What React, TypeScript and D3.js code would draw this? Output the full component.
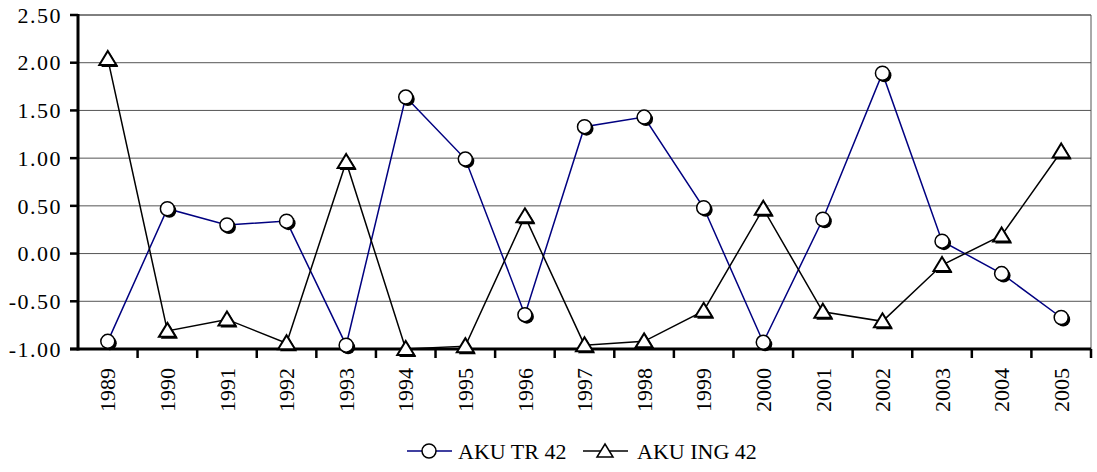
import React from "react";
import * as d3 from "d3";

const years = ["1989","1990","1991","1992","1993","1994","1995","1996","1997","1998","1999","2000","2001","2002","2003","2004","2005"];
const akuTr = [-0.92, 0.47, 0.30, 0.34, -0.96, 1.64, 0.99, -0.64, 1.33, 1.43, 0.48, -0.93, 0.36, 1.89, 0.13, -0.21, -0.67];
const akuIng = [2.04, -0.81, -0.69, -0.94, 0.96, -1.00, -0.97, 0.39, -0.96, -0.92, -0.60, 0.47, -0.61, -0.71, -0.12, 0.19, 1.07];
const yTicks = [-1, -0.5, 0, 0.5, 1, 1.5, 2, 2.5];
const seriesNames = ["AKU TR 42", "AKU ING 42"];

const W = 1097, H = 472;
const L = 78, R = 1091, T = 15, B = 349;
const FONT = '"Liberation Serif", "DejaVu Serif", serif';

function Circle({ cx, cy }: { cx: number; cy: number }) {
  return (
    <g>
      <circle cx={cx + 2} cy={cy + 2} r={7} fill="#000" />
      <circle cx={cx} cy={cy} r={7} fill="#fff" stroke="#000" strokeWidth={1.5} />
    </g>
  );
}
function Tri({ cx, cy }: { cx: number; cy: number }) {
  const p = (dx: number, dy: number) => `M${cx + dx},${cy + dy - 8} L${cx + dx + 8.5},${cy + dy + 6} L${cx + dx - 8.5},${cy + dy + 6} Z`;
  return (
    <g>
      <path d={p(2, 2)} fill="#000" />
      <path d={p(0, 0)} fill="#fff" stroke="#000" strokeWidth={2} strokeLinejoin="miter" />
    </g>
  );
}

export default function App() {
  const x = d3.scaleBand().domain(years).range([L, R]).padding(0);
  const y = d3.scaleLinear().domain([-1, 2.5]).range([B, T]);
  const cx = (d: string) => (x(d) as number) + x.bandwidth() / 2;
  const line = d3.line<number>().x((_, i) => cx(years[i])).y((v) => y(v));
  const ts = { fontFamily: FONT, fontSize: "22px" } as React.CSSProperties;
  const tsY = { fontFamily: FONT, fontSize: "22px", letterSpacing: "1.5px" } as React.CSSProperties;
  const LY = 451;

  return (
    <svg width={W} height={H} style={{ position: "absolute", left: 0, top: 0, background: "#fff" }}>
      {yTicks.map((t) => (
        <g key={t}>
          <line x1={L} x2={R} y1={y(t)} y2={y(t)} stroke={t === 2.5 ? "#000" : "#555"} strokeWidth={1} />
          <line x1={L - 8} x2={L} y1={y(t)} y2={y(t)} stroke="#000" strokeWidth={2.5} />
          <text x={L - 16} y={y(t)} dy="0.35em" textAnchor="end" style={tsY} fill="#000">{t.toFixed(2)}</text>
        </g>
      ))}
      <line x1={R} x2={R} y1={T} y2={B} stroke="#555" strokeWidth={1} />
      <line x1={L} x2={L} y1={T - 1} y2={B + 1.5} stroke="#000" strokeWidth={3} />
      <line x1={L - 8} x2={R} y1={B} y2={B} stroke="#000" strokeWidth={3} />
      {years.map((d) => (
        <line key={"t" + d} x1={(x(d) as number) + x.bandwidth()} x2={(x(d) as number) + x.bandwidth()} y1={B} y2={B + 9} stroke="#000" strokeWidth={2.5} />
      ))}
      {years.map((d) => (
        <text key={"l" + d} transform={`translate(${cx(d)},${B + 19}) rotate(-90)`} dy="0.35em" textAnchor="end" style={ts} fill="#000">{d}</text>
      ))}
      <path d={line(akuTr) || ""} fill="none" stroke="#000080" strokeWidth={1.5} />
      <path d={line(akuIng) || ""} fill="none" stroke="#000" strokeWidth={1.5} />
      {akuTr.map((v, i) => <Circle key={"c" + i} cx={cx(years[i])} cy={y(v)} />)}
      {akuIng.map((v, i) => <Tri key={"tr" + i} cx={cx(years[i])} cy={y(v)} />)}
      <g>
        <line x1={407} x2={452} y1={LY} y2={LY} stroke="#000080" strokeWidth={1.5} />
        <circle cx={429} cy={LY} r={7} fill="#fff" stroke="#000" strokeWidth={1.5} />
        <text x={458} y={LY} dy="0.35em" style={ts} fill="#000">{seriesNames[0]}</text>
        <line x1={583} x2={628} y1={LY} y2={LY} stroke="#000" strokeWidth={1.5} />
        <path d={`M605,${LY - 7} L613,${LY + 6} L597,${LY + 6} Z`} fill="#fff" stroke="#000" strokeWidth={1.5} />
        <text x={637} y={LY} dy="0.35em" style={ts} fill="#000">{seriesNames[1]}</text>
      </g>
    </svg>
  );
}
